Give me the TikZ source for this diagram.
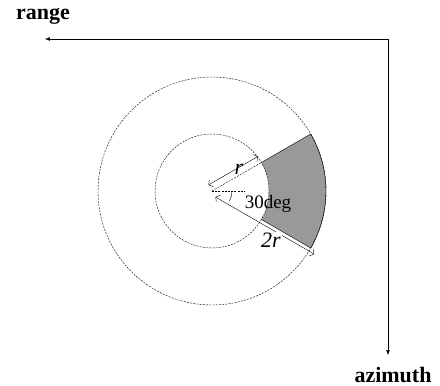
\documentclass[tikz,border=0pt]{standalone}
\usepackage{fontspec}
\setmainfont{Liberation Serif}
\usetikzlibrary{arrows.meta,calc}

\begin{document}
\begin{tikzpicture}[>=Latex, x=1pt, y=1pt]
	\tikzset{
		axis/.style={->, thin},
		ring/.style={thin, dash pattern=on 2pt off 1.2pt},
		dim/.style={{Straight Barb[length=3pt,width=8pt]}-{Straight Barb[length=3pt,width=8pt]}, thin},
		axlab/.style={font=\fontsize{22}{22}\selectfont\bfseries, inner sep=1pt},
		dimlab/.style={font=\fontsize{22}{22}\selectfont\itshape, inner sep=1pt},
	}
	\useasboundingbox (0,0) rectangle (440,386);
	\coordinate (O) at (212,195);
	\coordinate (corner) at (388,347);
	\coordinate (rangeEnd) at (45,347);
	\coordinate (azEnd) at (388,31);
	
	% axes
	\draw[axis] (corner) -- (rangeEnd);
	\draw[axis] (corner) -- (azEnd);
	\node[axlab] (range) at (43,370) {range};
	\node[axlab] (azimuth) at (393,11) {azimuth};
	
	% shaded cell
	\fill[gray!80] ($(O)+(-30:57)$) arc[start angle=-30, end angle=30, radius=57]
		-- ($(O)+(30:114)$) arc[start angle=30, end angle=-30, radius=114] -- cycle;
	\draw[thin] ($(O)+(30:57)$) -- ($(O)+(30:114)$) arc[start angle=30, end angle=-30, radius=114]
		-- ($(O)+(-30:57)$);
	
	% rings
	\draw[ring] (O) circle[radius=57];
	\draw[ring] (O) circle[radius=114];
	\draw[ring] (O) -- ($(O)+(30:57)$);
	\draw[ring] (O) -- ($(O)+(0:33)$);
	\draw[thin] ($(O)+(0:20)$) arc[start angle=0, end angle=-30, radius=20];
	\node[font=\fontsize{19}{19}\selectfont, inner sep=0pt] (ang) at (268,182) {30deg};
	
	% dimensions
	\coordinate (rA) at ($(O)+(120:7)$);
	\coordinate (rB) at ($(rA)+(30:57)$);
	\draw[dim] (rA) -- (rB);
	\node[dimlab] (one) at (239,217) {r};
	\coordinate (tA) at ($(O)+(-60:7)$);
	\coordinate (tB) at ($(tA)+(-30:114)$);
	\draw[dim] (tA) -- (tB);
	\node[dimlab, fill=white] (two) at (271,146) {2r};
\end{tikzpicture}
\end{document}
